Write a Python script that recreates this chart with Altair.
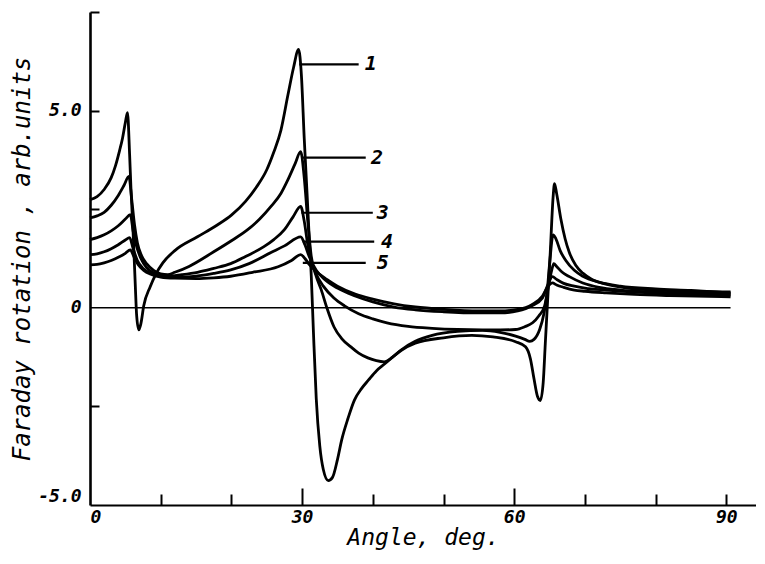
import altair as alt
import pandas as pd

# ---- curve data (angle in deg, Faraday rotation in arb. units) ----
c1_x = [0, 1, 2, 3, 3.6, 4.2, 4.6, 5.0, 5.3, 5.6, 5.8, 6.1, 6.4, 6.6, 6.9, 7.2, 7.6, 8.5, 9.3, 10.3,
        12, 15.2, 18, 20, 22, 23.5, 25, 26, 27, 28, 28.8, 29.5, 29.9, 30.3, 30.7, 31.0, 31.3, 31.6,
        32.0, 32.5, 33.0, 33.7, 34.3, 35.0, 35.6, 36.5, 37.4, 38.4, 39.4, 40.5, 41.7, 43, 44.1, 46,
        50, 54, 57, 60.2, 61.6, 62.3, 62.8, 63.3, 63.7, 64.1, 64.4, 64.7, 65.1, 65.5, 65.7, 66.0,
        66.6, 67.2, 67.8, 68.7, 69.7, 71, 73, 76, 80, 85, 90.6]
c1_y = [2.74, 2.82, 3.0, 3.3, 3.6, 4.0, 4.3, 4.7, 4.95, 3.9, 3.0, 1.9, 0.6, -0.2, -0.56, -0.4, 0.05,
        0.53, 0.85, 1.14, 1.45, 1.8, 2.1, 2.35, 2.7, 3.05, 3.5, 3.95, 4.5, 5.4, 6.1, 6.55, 5.9, 4.3,
        2.9, 1.8, 0.8, -0.6, -2.3, -3.5, -4.1, -4.38, -4.3, -3.85, -3.35, -2.8, -2.34, -2.05, -1.83,
        -1.6, -1.42, -1.22, -1.07, -0.9, -0.76, -0.7, -0.74, -0.86, -0.99, -1.3, -1.8, -2.25, -2.35,
        -1.9, -0.9, 0.1, 1.4, 2.8, 3.15, 2.9, 2.25, 1.75, 1.4, 1.08, 0.88, 0.72, 0.6, 0.5, 0.45,
        0.42, 0.4]

c2_x = [0, 1, 2, 3, 4, 4.8, 5.5, 5.9, 6.3, 6.7, 7.3, 8, 9, 10, 11, 12, 14, 17.5, 20, 22.3, 24,
        25.6, 27, 28, 29, 29.8, 30.3, 30.8, 31.3, 32, 32.7, 33.5, 34.5, 35.6, 36.9, 38, 39.3, 40.5,
        41.6, 42.8, 44, 46, 48.4, 52, 55.5, 58, 60.2, 61.5, 62.2, 62.8, 63.6, 64.2, 64.6, 65.0, 65.5,
        65.9, 66.5, 67.3, 68.5, 69.7, 72, 75, 80, 85, 90.6]
c2_y = [2.28, 2.33, 2.42, 2.6, 2.85, 3.1, 3.33, 2.75, 2.1, 1.65, 1.32, 1.12, 0.95, 0.86, 0.84, 0.9,
        1.05, 1.42, 1.7, 1.98, 2.25, 2.57, 2.9, 3.25, 3.65, 3.96, 3.3, 2.2, 1.3, 0.8, 0.46, 0.0,
        -0.48, -0.78, -0.99, -1.15, -1.27, -1.34, -1.37, -1.25, -1.07, -0.85, -0.7, -0.6, -0.57,
        -0.62, -0.72, -0.8, -0.85, -0.8, -0.55, -0.15, 0.3, 1.1, 1.85, 1.75, 1.45, 1.2, 0.95, 0.8,
        0.65, 0.55, 0.48, 0.44, 0.38]

c3_x = [0, 1, 2, 3, 4, 5, 5.7, 6.1, 6.6, 7.2, 8, 9, 10, 11, 13, 15.2, 17.5, 19.9, 22, 24.6, 26,
        27.5, 28.7, 29.8, 30.3, 30.8, 31.3, 32, 33, 34.5, 36, 38, 40, 42, 45, 48.4, 52, 55.5, 58,
        60.2, 61.5, 62.6, 63.5, 64.3, 64.8, 65.3, 65.6, 66, 66.8, 67.8, 69.7, 72, 75, 80, 85, 90.6]
c3_y = [1.73, 1.78, 1.85, 1.95, 2.08, 2.25, 2.36, 1.95, 1.55, 1.25, 1.02, 0.88, 0.82, 0.8, 0.84,
        0.9, 1.0, 1.12, 1.3, 1.55, 1.73, 1.98, 2.3, 2.57, 2.2, 1.6, 1.2, 0.85, 0.55, 0.25, 0.05,
        -0.15, -0.28, -0.38, -0.47, -0.52, -0.55, -0.56, -0.56, -0.55, -0.48, -0.38, -0.2, 0.05,
        0.5, 0.95, 1.12, 1.05, 0.9, 0.79, 0.63, 0.52, 0.45, 0.4, 0.37, 0.35]

c4_x = [0, 1, 2, 3, 4, 5, 5.6, 6.1, 6.7, 7.5, 8.5, 10, 12, 15, 17.5, 19.9, 22.5, 25.6, 27.5, 29.8,
        30.4, 31, 32, 33, 35, 37.5, 40, 43, 46, 50, 55, 58, 60.5, 62.5, 64, 64.8, 65.4, 66, 67,
        68.5, 70, 73, 77, 82, 90.6]
c4_y = [1.35, 1.37, 1.42, 1.5, 1.6, 1.72, 1.78, 1.5, 1.2, 1.0, 0.88, 0.8, 0.77, 0.8, 0.87, 0.96,
        1.12, 1.4, 1.57, 1.8, 1.6, 1.3, 0.95, 0.75, 0.5, 0.3, 0.15, 0.02, -0.05, -0.1, -0.13, -0.13,
        -0.08, 0.05, 0.25, 0.6, 0.79, 0.72, 0.62, 0.55, 0.5, 0.45, 0.4, 0.36, 0.32]

c5_x = [0, 1, 2, 3, 4, 5, 5.7, 6.2, 6.8, 7.6, 8.6, 10, 12, 15, 17.5, 19.9, 23, 26.6, 28.5, 29.8,
        30.4, 31, 32, 33.5, 35, 37.5, 40, 43, 46, 50, 55, 58, 60.5, 62.5, 64, 64.8, 65.4, 66, 67,
        68.5, 70, 73, 77, 82, 90.6]
c5_y = [1.09, 1.1, 1.14, 1.2, 1.28, 1.38, 1.47, 1.3, 1.1, 0.95, 0.85, 0.78, 0.75, 0.74, 0.76, 0.8,
        0.9, 1.04, 1.2, 1.35, 1.25, 1.1, 0.92, 0.72, 0.55, 0.35, 0.22, 0.1, 0.02, -0.04, -0.08,
        -0.08, -0.04, 0.08, 0.3, 0.55, 0.63, 0.58, 0.52, 0.45, 0.42, 0.38, 0.34, 0.31, 0.28]

curve_names = ["1", "2", "3", "4", "5"]

# ---- curve labels with leader lines ----
label_y = [6.17, 3.81, 2.41, 1.68, 1.14]
leader_x0 = [29.6, 29.9, 29.9, 30.1, 30.1]
leader_x1 = [38.0, 39.0, 40.0, 40.2, 39.0]
label_x = [39.7, 40.6, 41.4, 42.0, 41.4]

# ---- axis ticks ----
x_label_ticks = [0, 30, 60, 90]
x_minor_ticks = [10, 20, 40, 50, 70, 80, 90]
x_major_ticks = [30, 60]
y_label_ticks = [-5, 0, 5]
y_minor_ticks = [-2.5, 2.5, 5, 7.5]
zero_line_end = [90.6]

rows = []
for name, xs_, ys_ in zip(curve_names, [c1_x, c2_x, c3_x, c4_x, c5_x], [c1_y, c2_y, c3_y, c4_y, c5_y]):
    for i, (a, v) in enumerate(zip(xs_, ys_)):
        rows.append({"curve": name, "angle": a, "value": v, "order": i})
df = pd.DataFrame(rows)

lab_df = pd.DataFrame({"name": curve_names, "y": label_y, "x0": leader_x0,
                       "x1": leader_x1, "lx": label_x})
zero_df = pd.DataFrame({"y": [0], "x0": [0], "x1": zero_line_end})

X_DOMAIN = [0, 94.2]
Y_DOMAIN = [-5, 7.5]
xsc = alt.Scale(domain=X_DOMAIN, nice=False, zero=False)
ysc = alt.Scale(domain=Y_DOMAIN, nice=False, zero=False)
FONT = "DejaVu Sans Mono"

lines = alt.Chart(df).mark_line(color="black", strokeWidth=2.8, interpolate="monotone").encode(
    x=alt.X("angle:Q", scale=xsc, axis=alt.Axis(
        orient="bottom", values=x_label_ticks, ticks=False, domain=True, domainColor="black",
        domainWidth=2.2, labelFont=FONT, labelFontSize=18, labelFontStyle="italic",
        labelFontWeight="bold", labelColor="black", labelPadding=3, title="Angle, deg.",
        titleFont=FONT, titleFontSize=23, titleFontStyle="italic", titleFontWeight="normal",
        titleColor="black", titlePadding=0, grid=False)),
    y=alt.Y("value:Q", scale=ysc, axis=alt.Axis(
        orient="left", values=y_label_ticks, ticks=False, domain=True, domainColor="black",
        domainWidth=2.6, labelFont=FONT, labelFontSize=18, labelFontStyle="italic",
        labelFontWeight="bold", labelColor="black", labelPadding=9, labelFlush=True,
        labelExpr="datum.value == 0 ? '0' : (datum.value < 0 ? '-' : '') + format(abs(datum.value), '.1f')",
        title="Faraday rotation , arb.units", titleFont=FONT, titleFontSize=24,
        titleFontStyle="italic", titleFontWeight="normal", titleColor="black", titlePadding=3,
        grid=False)),
    detail="curve:N",
    order="order:Q",
)

zero = alt.Chart(zero_df).mark_rule(color="black", strokeWidth=1.6).encode(
    x=alt.X("x0:Q", scale=xsc, axis=alt.Axis(
        orient="bottom", values=x_minor_ticks, tickSize=11, offset=-11, tickWidth=2,
        tickColor="black", labels=False, domain=False, title=None, grid=False)),
    x2="x1:Q",
    y=alt.Y("y:Q", scale=ysc, axis=alt.Axis(
        orient="left", values=y_minor_ticks, tickSize=9, offset=-9, tickWidth=2,
        tickColor="black", labels=False, domain=False, title=None, grid=False)),
)

leaders = alt.Chart(lab_df).mark_rule(color="black", strokeWidth=2.2).encode(
    x=alt.X("x0:Q", scale=xsc, axis=alt.Axis(
        orient="bottom", values=x_major_ticks, tickSize=17, offset=-17, tickWidth=2,
        tickColor="black", labels=False, domain=False, title=None, grid=False)),
    x2="x1:Q",
    y=alt.Y("y:Q", scale=ysc, axis=None),
)

labels = alt.Chart(lab_df).mark_text(font=FONT, fontSize=20, fontStyle="italic",
                                     fontWeight="bold", color="black").encode(
    x=alt.X("lx:Q", scale=xsc, axis=None),
    y=alt.Y("y:Q", scale=ysc, axis=None),
    text="name:N",
)

chart = alt.layer(lines, zero, leaders, labels).resolve_axis(
    x="independent", y="independent"
).properties(
    width=666, height=493,
    autosize=alt.AutoSizeParams(type="none"),
    padding={"left": 82, "top": 4, "right": 0, "bottom": 50},
    background="white",
).configure_view(stroke=None)

chart.save("out.html", embed_options={"renderer": "svg", "actions": False})
